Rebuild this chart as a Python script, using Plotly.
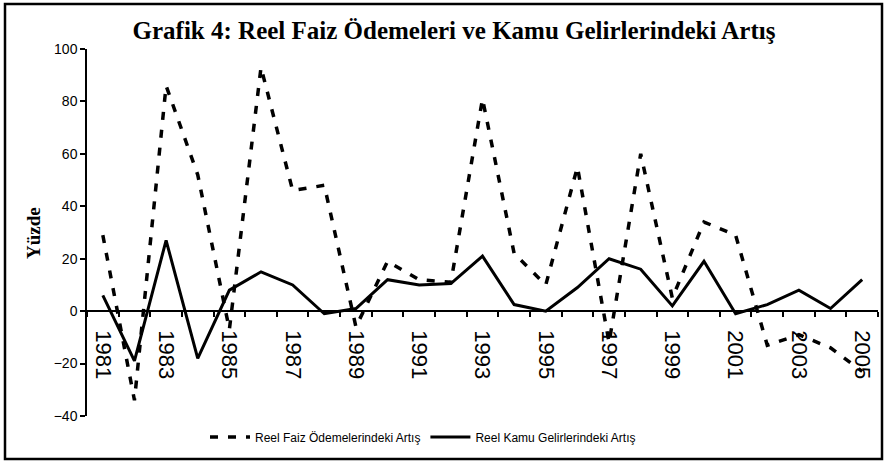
import plotly.graph_objects as go

years = list(range(1981, 2006))
faiz = [29, -34, 86, 52, -7, 93, 46, 48, -6, 19, 12, 11, 81, 22, 10, 55, -12, 60, 5, 34, 29, -13, -9, -14, -23]
kamu = [6, -19, 27, -18, 8, 15, 10, -1, 1, 12, 10, 10.5, 21, 2.5, 0, 9, 20, 16, 2, 19, -1, 2.5, 8, 1, 12]
tick_years = [y for y in years if y % 2 == 1]
tick_labels = [str(y) for y in tick_years]
name_faiz = "Reel Faiz Ödemelerindeki Artış"
name_kamu = "Reel Kamu Gelirlerindeki Artış"
title_text = "Grafik 4: Reel Faiz Ödemeleri ve Kamu Gelirlerindeki Artış"
y_title = "Yüzde"

W, H = 888, 463
L, R, T, B = 87, 10, 49, 47
pw, ph = W - L - R, H - T - B
SANS = "Arial, Liberation Sans, sans-serif"
SERIF = "Liberation Serif, Times New Roman, serif"

def px_x(x):
    return (x - L) / pw

def px_y(y):
    return (H - B - y) / ph

fig = go.Figure()
fig.add_trace(go.Scatter(x=years, y=faiz, mode="lines", name=name_faiz,
                         line=dict(color="black", width=3.5, dash="8px,10px")))
fig.add_trace(go.Scatter(x=years, y=kamu, mode="lines", name=name_kamu,
                         line=dict(color="black", width=3)))

fig.update_layout(
    width=W, height=H,
    margin=dict(l=L, r=R, t=T, b=B),
    paper_bgcolor="white", plot_bgcolor="white",
    font=dict(family=SANS, color="black"),
    title=dict(text="<b>" + title_text + "</b>", x=454 / W, xanchor="center",
               y=1 - 30 / H, yanchor="middle",
               font=dict(family=SERIF, size=25, color="black")),
    showlegend=True,
    legend=dict(orientation="h", x=px_x(423), xanchor="center", y=px_y(437), yanchor="middle",
                font=dict(family=SANS, size=12, color="black"), bgcolor="rgba(0,0,0,0)",
                itemwidth=40, tracegroupgap=0),
    xaxis=dict(
        range=[1980.5, 2005.5], anchor="free", position=40 / 140,
        tickmode="array", tickvals=tick_years, ticktext=tick_labels,
        tickangle=90, ticks="", ticklabelstandoff=14,
        tickfont=dict(family=SANS, size=22, color="black"),
        showline=True, linecolor="black", linewidth=1.5,
        showgrid=False, zeroline=False,
        minor=dict(tickmode="array", tickvals=[1980.5 + i for i in range(26)],
                   ticks="outside", ticklen=5, tickcolor="black", tickwidth=1.5, showgrid=False),
    ),
    yaxis=dict(
        range=[-40, 100], dtick=20, tick0=0,
        ticks="outside", ticklen=5, tickcolor="black", tickwidth=1.5,
        tickfont=dict(family=SANS, size=14, color="black"),
        showline=True, linecolor="black", linewidth=1.5,
        showgrid=False, zeroline=False,
    ),
    annotations=[dict(text="<b>" + y_title + "</b>", xref="paper", yref="paper",
                      x=px_x(33), y=px_y(233), textangle=-90, showarrow=False,
                      xanchor="center", yanchor="middle",
                      font=dict(family=SERIF, size=19, color="black"))],
    shapes=[dict(type="rect", xref="paper", yref="paper",
                 x0=px_x(5), x1=px_x(882), y0=px_y(459), y1=px_y(4),
                 line=dict(color="black", width=2.5), fillcolor="rgba(0,0,0,0)", layer="below")],
)

fig.write_html("out.html", config={"displayModeBar": False})

with open("out.html", encoding="utf-8") as f:
    html = f.read()
html = html.replace("<head>", "<head><style>html,body{margin:0;padding:0;overflow:hidden;}</style>", 1)
with open("out.html", "w", encoding="utf-8") as f:
    f.write(html)
